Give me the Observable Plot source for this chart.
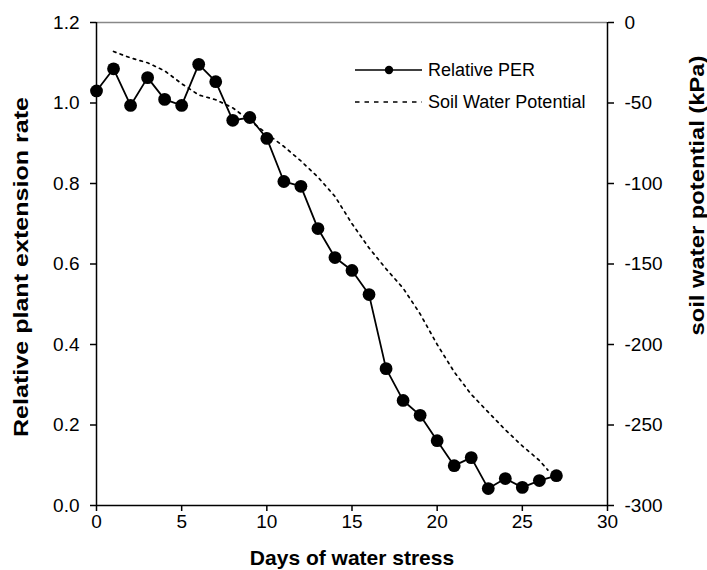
<!DOCTYPE html>
<html><head><meta charset="utf-8">
<script src="https://cdn.jsdelivr.net/npm/d3@7"></script>
<script src="https://cdn.jsdelivr.net/npm/@observablehq/plot@0.6"></script>
<style>
body{margin:0;background:#fff;}
#chart{position:relative;width:707px;height:570px;}
svg{font-family:"Liberation Sans",Arial,sans-serif;}
</style></head>
<body><div id="chart"></div>
<script>
const perDays = [0,1,2,3,4,5,6,7,8,9,10,11,12,13,14,15,16,17,18,19,20,21,22,23,24,25,26,27];
const perValues = [1.03,1.085,0.994,1.063,1.009,0.994,1.096,1.053,0.957,0.964,0.912,0.805,0.793,0.688,0.616,0.584,0.524,0.340,0.261,0.224,0.161,0.099,0.119,0.042,0.067,0.045,0.062,0.074];
const soilDays = [1,2,3,4,5,6,7,8,9,10,11,12,13,14,15,16,17,18,19,20,21,22,23,24,25,26,26.5];
const soilValues = [-18,-22,-25,-30,-38,-45,-48,-53,-61,-69,-77,-86,-96,-108,-125,-140,-153,-165,-181,-200,-217,-231,-242,-253,-263,-272,-278];
const xTicks = [0,5,10,15,20,25,30];
const leftTicks = [0,0.2,0.4,0.6,0.8,1.0,1.2];
const rightTicks = [0,-50,-100,-150,-200,-250,-300];
const labels = {x:"Days of water stress", left:"Relative plant extension rate", right:"soil water potential (kPa)"};
const legendLabels = ["Relative PER","Soil Water Potential"];

// right axis (kPa, -300..0) mapped onto the left scale (0..1.2)
const toLeft = v => (v + 300) / 250;
const toRight = y => Math.round(y * 250 - 300);

const per = perDays.map((d,i)=>({d, v:perValues[i]}));
const soil = soilDays.map((d,i)=>({d, v:toLeft(soilValues[i])}));

const chart = Plot.plot({
  width:707, height:570,
  marginLeft:96, marginRight:100, marginTop:22, marginBottom:65,
  style:{fontFamily:"Liberation Sans, Arial, sans-serif", fontSize:"19px", color:"#000", background:"#fff", overflow:"visible"},
  x:{domain:[0,30]},
  y:{domain:[0,1.2]},
  marks:[
    Plot.ruleY([1.2],{stroke:"#888",strokeWidth:1.3}),
    Plot.ruleY([0],{stroke:"#000",strokeWidth:1.5}),
    Plot.ruleX([0],{stroke:"#000",strokeWidth:1.5}),
    Plot.ruleX([30],{stroke:"#000",strokeWidth:1.5}),
    Plot.axisX({ticks:xTicks, tickSize:6, tickPadding:3, label:null, fontSize:19, strokeWidth:1.5}),
    Plot.axisY({ticks:leftTicks, tickSize:6, tickPadding:11, tickFormat:d3.format(".1f"), label:null, fontSize:19, strokeWidth:1.5}),
    Plot.axisY({anchor:"right", ticks:rightTicks.map(toLeft), tickFormat:toRight, tickSize:6, tickPadding:11, label:null, fontSize:19, strokeWidth:1.5}),
    Plot.line(soil,{x:"d", y:"v", stroke:"#000", strokeWidth:1.7, strokeDasharray:"2.5,4.5"}),
    Plot.line(per,{x:"d", y:"v", stroke:"#000", strokeWidth:1.8}),
    Plot.dot(per,{x:"d", y:"v", r:6.4, fill:"#000", stroke:"none"}),
    Plot.text([labels.x],{frameAnchor:"bottom", dy:53, textAnchor:"middle", lineAnchor:"middle", fontWeight:"bold", fontSize:21}),
    Plot.text([labels.left],{frameAnchor:"left", dx:-75, dy:3, textAnchor:"middle", lineAnchor:"middle", rotate:-90, fontWeight:"bold", fontSize:21, className:"ttl-left"}),
    Plot.text([labels.right],{frameAnchor:"top", x:30, dx:90, dy:173, textAnchor:"middle", lineAnchor:"middle", rotate:-90, fontWeight:"bold", fontSize:21, className:"ttl-right"})
  ]
});
document.getElementById("chart").appendChild(chart);

// stretch the rotated titles to the lengths seen in the reference
const svg = d3.select(chart);
svg.selectAll(".ttl-left text").attr("textLength",340).attr("lengthAdjust","spacingAndGlyphs");
svg.selectAll(".ttl-right text").attr("textLength",280).attr("lengthAdjust","spacingAndGlyphs");

// legend
const lg = svg.append("g").attr("font-family","Liberation Sans, Arial, sans-serif").attr("font-size",18).attr("text-anchor","start");
const rows = [{y:70, dash:null},{y:102, dash:"4.5,5"}];
legendLabels.forEach((t,i)=>{
  const r = rows[i];
  const ln = lg.append("line").attr("x1",355).attr("x2",422).attr("y1",r.y).attr("y2",r.y).attr("stroke","#000").attr("stroke-width",1.7);
  if (r.dash) ln.attr("stroke-dasharray",r.dash);
  else lg.append("circle").attr("cx",389).attr("cy",r.y).attr("r",4.2).attr("fill","#000");
  lg.append("text").attr("x",428).attr("y",r.y).attr("dy","0.35em").attr("fill","#000").text(t);
});
</script></body></html>
